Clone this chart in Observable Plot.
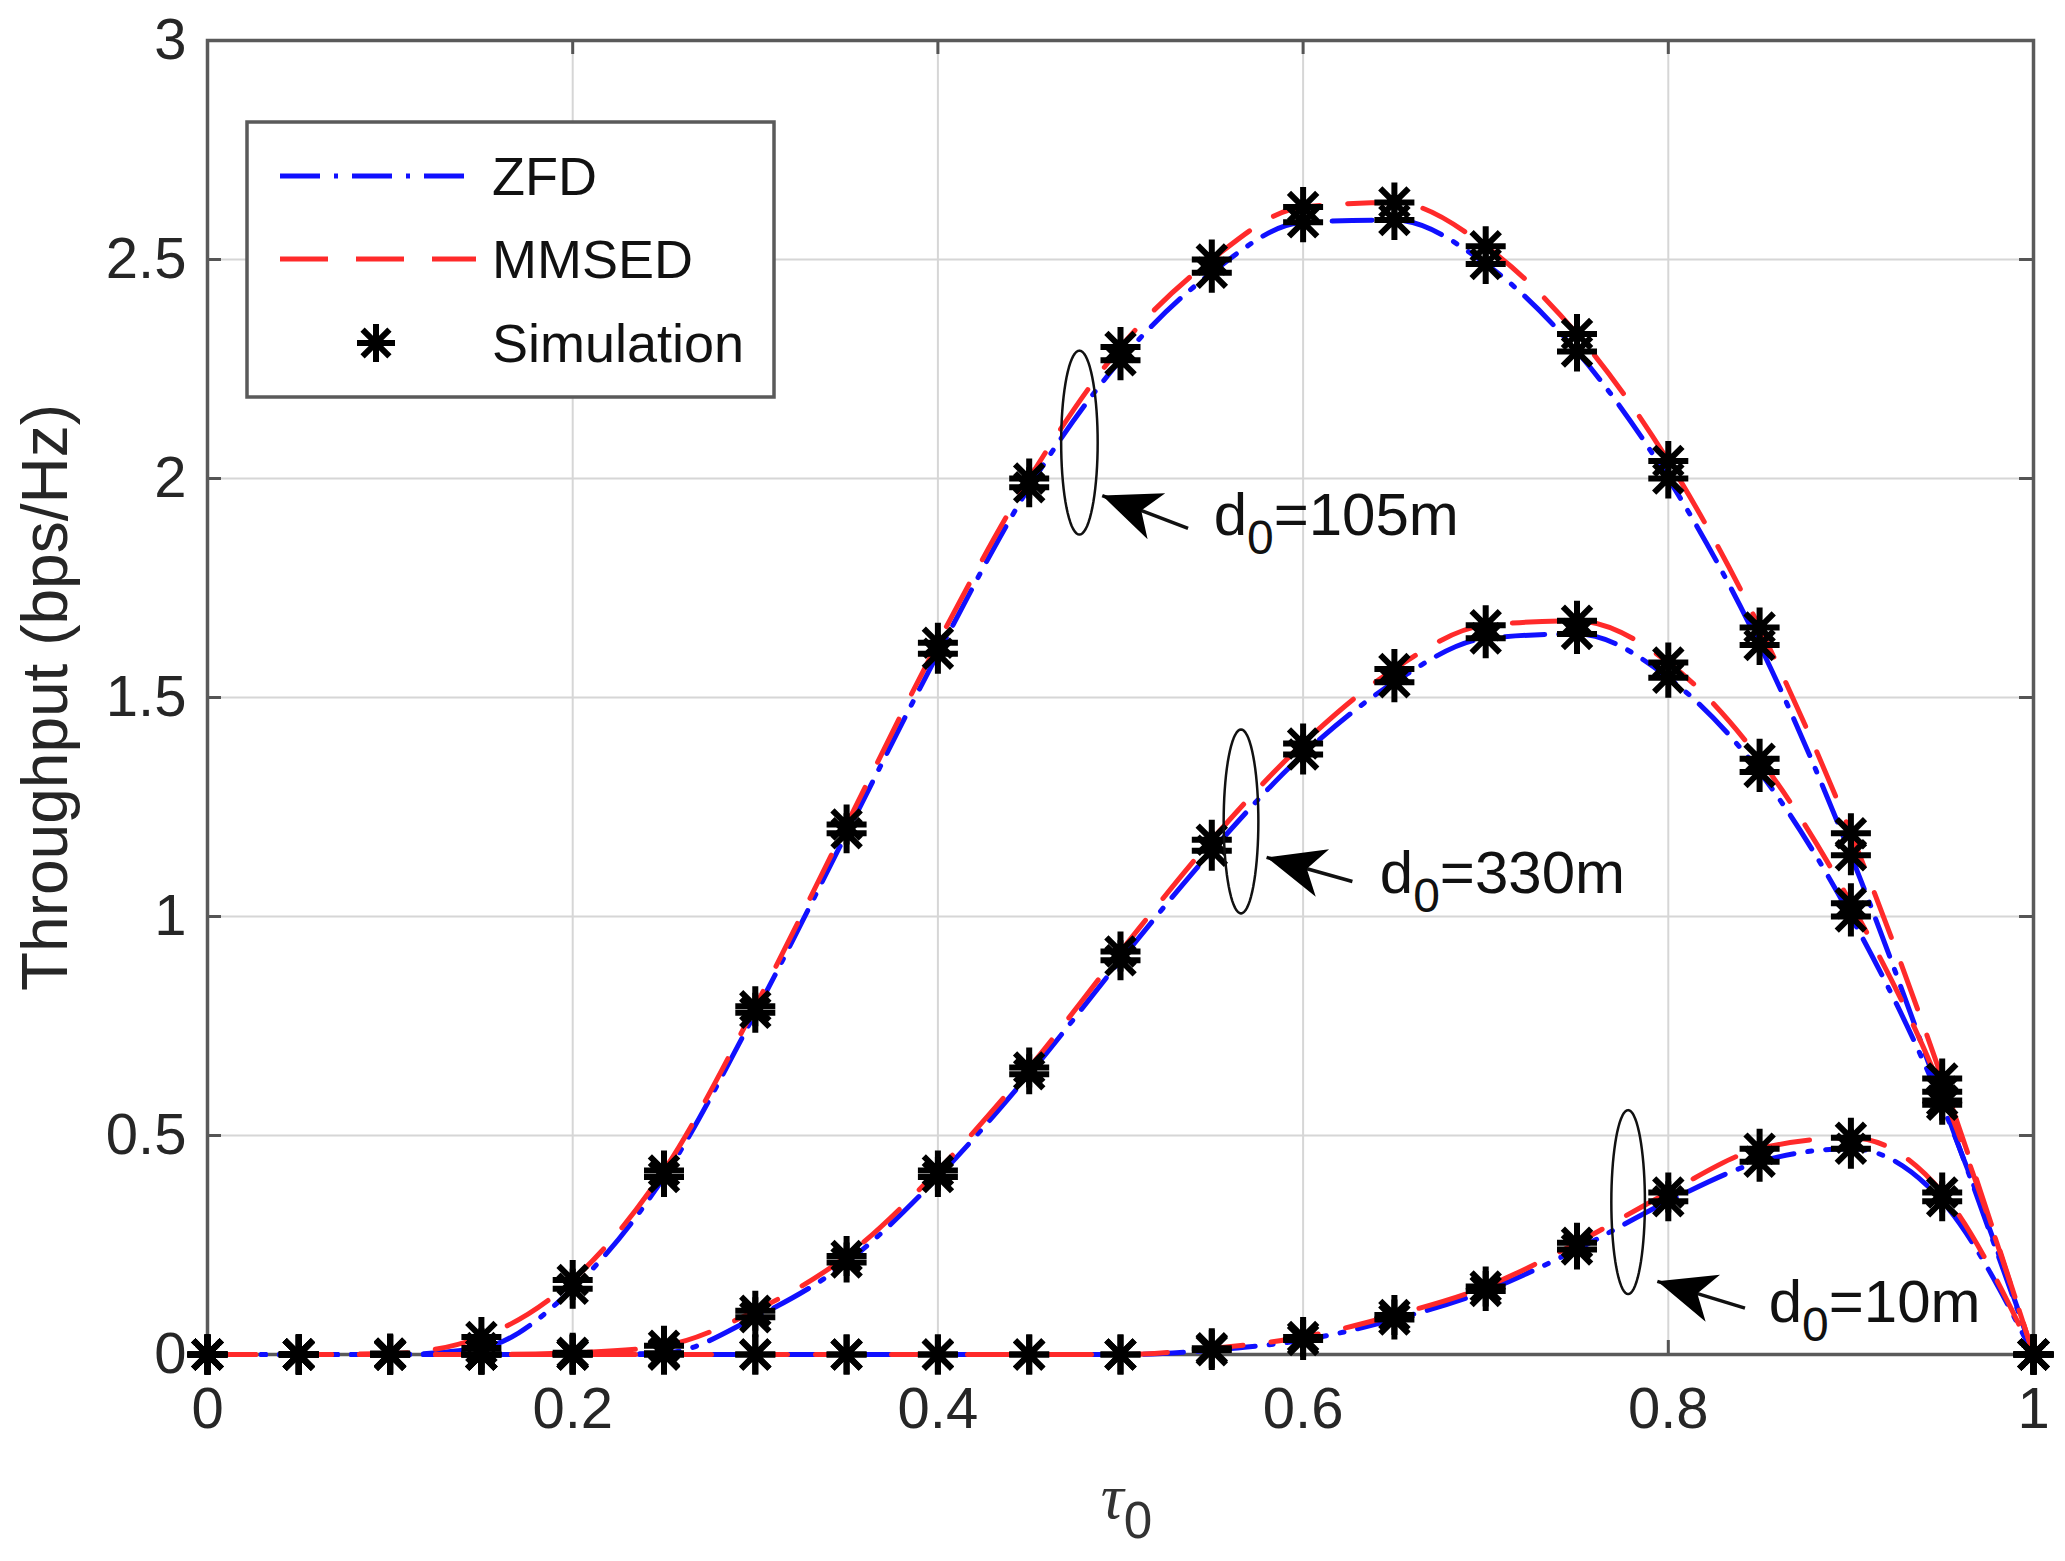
<!DOCTYPE html>
<html>
<head>
<meta charset="utf-8">
<script src="https://cdn.jsdelivr.net/npm/d3@7"></script>
<script src="https://cdn.jsdelivr.net/npm/@observablehq/plot@0.6"></script>
<style>
  body { margin: 0; background: #fff; }
  #chart { position: relative; width: 2065px; height: 1561px; overflow: hidden; }
  #chart svg { font-family: "Liberation Sans", Arial, sans-serif; }
  #legend { position: absolute; left: 0; top: 0; }
</style>
</head>
<body>
<div id="chart"></div>
<script>
// ---------- data ----------
const tau = [0, 0.05, 0.1, 0.15, 0.2, 0.25, 0.3, 0.35, 0.4, 0.45, 0.5, 0.55, 0.6, 0.65, 0.7, 0.75, 0.8, 0.85, 0.9, 0.95, 1];

const zfd105   = [0, 0, 0, 0.015, 0.15, 0.405, 0.78, 1.19, 1.60, 1.98, 2.27, 2.47, 2.585, 2.59, 2.49, 2.29, 2.00, 1.62, 1.14, 0.58, 0];
const mmsed105 = [0, 0, 0.002, 0.04, 0.17, 0.42, 0.795, 1.21, 1.625, 2.00, 2.30, 2.50, 2.62, 2.63, 2.53, 2.33, 2.04, 1.66, 1.19, 0.63, 0];

const zfd330   = [0, 0, 0, 0, 0, 0.003, 0.085, 0.21, 0.405, 0.64, 0.90, 1.15, 1.37, 1.535, 1.635, 1.645, 1.545, 1.33, 1.00, 0.57, 0];
const mmsed330 = [0, 0, 0, 0, 0.004, 0.02, 0.10, 0.225, 0.42, 0.655, 0.92, 1.175, 1.395, 1.565, 1.665, 1.675, 1.58, 1.36, 1.03, 0.60, 0];

const zfd10    = [0, 0, 0, 0, 0, 0, 0, 0, 0, 0, 0, 0.01, 0.033, 0.08, 0.145, 0.24, 0.35, 0.44, 0.47, 0.35, 0];
const mmsed10  = [0, 0, 0, 0, 0, 0, 0, 0, 0, 0, 0, 0.014, 0.04, 0.09, 0.155, 0.255, 0.37, 0.47, 0.495, 0.37, 0];

const xTicks = [0, 0.2, 0.4, 0.6, 0.8, 1];
const xTickLabels = ["0", "0.2", "0.4", "0.6", "0.8", "1"];
const yTicks = [0, 0.5, 1, 1.5, 2, 2.5, 3];
const yTickLabels = ["0", "0.5", "1", "1.5", "2", "2.5", "3"];

const legendNames = ["ZFD", "MMSED", "Simulation"];
const yLabel = "Throughput (bps/Hz)";
const xLabelMain = "τ";
const xLabelSub = "0";

// annotation groups (ellipse + arrow + label)
const annoName  = ["105m", "330m", "10m"];
const ellipseCx = [0.4775, 0.566, 0.778];
const ellipseCy = [2.082, 1.217, 0.348];
const ellipseRx = [0.0100, 0.0095, 0.0092];
const ellipseRy = [0.21, 0.21, 0.21];
const arrowHeadX = [0.490, 0.580, 0.794];
const arrowHeadY = [1.961, 1.135, 0.167];
const arrowTailX = [0.537, 0.627, 0.842];
const arrowTailY = [1.886, 1.080, 0.106];
const labelX = [0.551, 0.642, 0.855];
const labelY = [1.915, 1.098, 0.118];

// ---------- layout ----------
const W = 2065, H = 1561;
const mL = 207, mR = 32, mT = 40, mB = 207;
const kx = (W - mL - mR) / 1;   // px per x unit
const ky = (H - mT - mB) / 3;   // px per y unit
const tickLen = 14;

const BLUE = "#1010ff", RED = "#ff2a2a";
const blueDash = "40,14,4,14";
const redDash = "48,28";

// ---------- tables ----------
function rows(vals, name) { return tau.map((t, i) => ({tau: t, v: vals[i], s: name})); }
const zfdRows = [...rows(zfd105, "105"), ...rows(zfd330, "330"), ...rows(zfd10, "10")];
const mmsedRows = [...rows(mmsed105, "105"), ...rows(mmsed330, "330"), ...rows(mmsed10, "10")];
const simRows = [...zfdRows, ...mmsedRows];

const ellipseRows = [];
annoName.forEach((n, k) => {
  for (let j = 0; j <= 72; j++) {
    const a = (j / 72) * 2 * Math.PI;
    ellipseRows.push({k, x: ellipseCx[k] + ellipseRx[k] * Math.cos(a), y: ellipseCy[k] + ellipseRy[k] * Math.sin(a)});
  }
});
const arrowRows = annoName.map((n, k) => {
  const sdx = (arrowHeadX[k] - arrowTailX[k]) * kx;
  const sdy = -(arrowHeadY[k] - arrowTailY[k]) * ky;
  return {hx: arrowHeadX[k], hy: arrowHeadY[k], tx: arrowTailX[k], ty: arrowTailY[k],
          rot: Math.atan2(sdx, -sdy) * 180 / Math.PI};
});
const labelRows = annoName.map((n, k) => ({x: labelX[k], y: labelY[k], text: "d0=" + n}));

// ---------- symbols ----------
const starSymbol = {
  draw(ctx, size) {
    const r = Math.sqrt(size / Math.PI), d = r * Math.SQRT1_2;
    ctx.moveTo(-r, 0); ctx.lineTo(r, 0);
    ctx.moveTo(0, -r); ctx.lineTo(0, r);
    ctx.moveTo(-d, -d); ctx.lineTo(d, d);
    ctx.moveTo(-d, d); ctx.lineTo(d, -d);
  }
};
const headSymbol = {
  draw(ctx, size) {
    const r = Math.sqrt(size / Math.PI);
    const L = 2 * r, w = 0.85 * r;
    ctx.moveTo(0, 0);
    ctx.lineTo(w, L);
    ctx.lineTo(0, L * 0.72);
    ctx.lineTo(-w, L);
    ctx.closePath();
  }
};

// ---------- plot ----------
const plot = Plot.plot({
  width: W, height: H,
  marginLeft: mL, marginRight: mR, marginTop: mT, marginBottom: mB,
  x: {domain: [0, 1]},
  y: {domain: [0, 3]},
  style: {fontFamily: "'Liberation Sans', Arial, sans-serif", color: "#262626", background: "#fff"},
  marks: [
    Plot.gridX(xTicks, {stroke: "#d6d6d6", strokeOpacity: 1, strokeWidth: 2}),
    Plot.gridY(yTicks, {stroke: "#d6d6d6", strokeOpacity: 1, strokeWidth: 2}),
    // inward tick marks on all four sides
    Plot.ruleX(xTicks, {x: d => d, y1: 0, y2: tickLen / ky, stroke: "#555", strokeWidth: 3}),
    Plot.ruleX(xTicks, {x: d => d, y1: 3, y2: 3 - tickLen / ky, stroke: "#555", strokeWidth: 3}),
    Plot.ruleY(yTicks, {y: d => d, x1: 0, x2: tickLen / kx, stroke: "#555", strokeWidth: 3}),
    Plot.ruleY(yTicks, {y: d => d, x1: 1, x2: 1 - tickLen / kx, stroke: "#555", strokeWidth: 3}),
    Plot.axisX(xTicks, {tickSize: 0, tickPadding: 32, tickFormat: (d, i) => xTickLabels[i], fontSize: 58, fill: "#262626", label: null}),
    Plot.axisY(yTicks, {tickSize: 0, tickPadding: 21, tickFormat: (d, i) => yTickLabels[i], fontSize: 58, fill: "#262626", label: null}),
    Plot.frame({stroke: "#5a5a5a", strokeWidth: 3.5}),
    // theory curves
    Plot.line(zfdRows, {x: "tau", y: "v", z: "s", stroke: BLUE, strokeWidth: 5, strokeDasharray: blueDash, curve: "monotone-x"}),
    Plot.line(mmsedRows, {x: "tau", y: "v", z: "s", stroke: RED, strokeWidth: 5, strokeDasharray: redDash, curve: "monotone-x"}),
    // simulation markers
    Plot.dot(simRows, {x: "tau", y: "v", symbol: starSymbol, r: 20, stroke: "#000", strokeWidth: 6, fill: "none"}),
    // annotations
    Plot.line(ellipseRows, {x: "x", y: "y", z: "k", stroke: "#111", strokeWidth: 2.5}),
    Plot.link(arrowRows, {x1: "tx", y1: "ty", x2: "hx", y2: "hy", stroke: "#111", strokeWidth: 3.5}),
    Plot.dot(arrowRows, {x: "hx", y: "hy", rotate: "rot", symbol: headSymbol, r: 29, fill: "#000", stroke: "none"}),
    Plot.text(labelRows, {x: "x", y: "y", text: "text", textAnchor: "start", fontSize: 60, fill: "#111"}),
    // axis titles
    Plot.text([yLabel], {frameAnchor: "left", textAnchor: "middle", dx: -161, rotate: -90, text: d => d, fontSize: 64, fill: "#262626"}),
    Plot.text([xLabelMain + xLabelSub], {frameAnchor: "bottom", textAnchor: "middle", dx: 6, dy: 163, text: d => d, fontSize: 64, fill: "#333"})
  ]
});

// subscripts
const NS = "http://www.w3.org/2000/svg";
function subscript(el, main, sub, rest, opts = {}) {
  while (el.firstChild) el.removeChild(el.firstChild);
  const a = document.createElementNS(NS, "tspan"); a.textContent = main;
  if (opts.mainStyle) a.setAttribute("style", opts.mainStyle);
  const b = document.createElementNS(NS, "tspan"); b.textContent = sub;
  b.setAttribute("dy", "0.40em"); b.setAttribute("font-size", "0.8em");
  el.appendChild(a); el.appendChild(b);
  if (rest) {
    const c = document.createElementNS(NS, "tspan"); c.textContent = rest;
    c.setAttribute("dy", "-0.32em");
    el.appendChild(c);
  }
}
plot.querySelectorAll("text").forEach(t => {
  const s = t.textContent;
  if (/^d0=/.test(s)) subscript(t, "d", "0", s.slice(2));
  else if (s === xLabelMain + xLabelSub) subscript(t, xLabelMain, xLabelSub, null, {mainStyle: "font-family:'Liberation Serif',serif;font-style:italic"});
});

const chart = document.getElementById("chart");
chart.appendChild(plot);

// ---------- legend (overlay) ----------
const lg = d3.create("svg").attr("id", "legend").attr("width", W).attr("height", H)
  .style("font-family", "'Liberation Sans', Arial, sans-serif");
lg.append("rect").attr("x", 247).attr("y", 122).attr("width", 527).attr("height", 275)
  .attr("fill", "#fff").attr("stroke", "#5a5a5a").attr("stroke-width", 3.5);
const entryY = [176, 259, 343];
lg.append("line").attr("x1", 280).attr("x2", 476).attr("y1", entryY[0]).attr("y2", entryY[0])
  .attr("stroke", BLUE).attr("stroke-width", 5).attr("stroke-dasharray", blueDash);
lg.append("line").attr("x1", 280).attr("x2", 476).attr("y1", entryY[1]).attr("y2", entryY[1])
  .attr("stroke", RED).attr("stroke-width", 5).attr("stroke-dasharray", redDash);
lg.append("path").attr("transform", `translate(376,${entryY[2]})`)
  .attr("d", d3.symbol(starSymbol, Math.PI * 19 * 19)())
  .attr("stroke", "#000").attr("stroke-width", 6).attr("fill", "none");
legendNames.forEach((n, i) => {
  lg.append("text").attr("x", 492).attr("y", entryY[i]).attr("dy", "0.36em")
    .attr("font-size", 54).attr("fill", "#111").text(n);
});
chart.appendChild(lg.node());
</script>
</body>
</html>
